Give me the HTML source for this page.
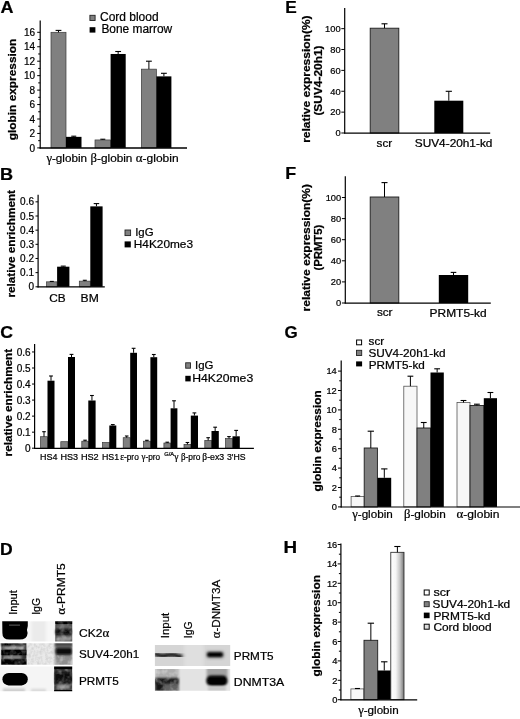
<!DOCTYPE html>
<html lang="en"><head><meta charset="utf-8"><title>Figure</title>
<style>html,body{margin:0;padding:0;background:#fff;overflow:hidden;}svg{display:block;filter:blur(0.3px);}text{font-family:'Liberation Sans', sans-serif;fill:#000;stroke:#000;stroke-width:0.22px;}</style>
</head><body>
<svg width="520" height="719" viewBox="0 0 520 719">
<defs>
<linearGradient id="cbgrad" x1="0" x2="1" y1="0" y2="0"><stop offset="0" stop-color="#ffffff"/><stop offset="0.38" stop-color="#f6f6f6"/><stop offset="0.7" stop-color="#c4c4c4"/><stop offset="1" stop-color="#787878"/></linearGradient>
<filter id="b1" x="-30%" y="-30%" width="160%" height="160%"><feGaussianBlur stdDeviation="1.1"/></filter>
<filter id="b2" x="-30%" y="-30%" width="160%" height="160%"><feGaussianBlur stdDeviation="1.8"/></filter>
<filter id="b3" x="-30%" y="-30%" width="160%" height="160%"><feGaussianBlur stdDeviation="0.7"/></filter>
<filter id="soft" x="-5%" y="-5%" width="110%" height="110%"><feGaussianBlur stdDeviation="0.45"/></filter>
<filter id="mottle" x="0" y="0" width="100%" height="100%"><feTurbulence type="fractalNoise" baseFrequency="0.2" numOctaves="2" seed="11"/><feColorMatrix type="matrix" values="0 0 0 0 1  0 0 0 0 1  0 0 0 0 1  2.6 0 0 0 -1.1"/><feComposite in2="SourceGraphic" operator="in"/><feGaussianBlur stdDeviation="0.5"/></filter>
<filter id="noise" x="0" y="0" width="100%" height="100%"><feTurbulence type="fractalNoise" baseFrequency="0.35" numOctaves="2" seed="3" result="n"/><feColorMatrix type="matrix" values="0 0 0 0 0  0 0 0 0 0  0 0 0 0 0  0.9 0 0 0 -0.32"/><feComposite in2="SourceGraphic" operator="in"/></filter>
</defs>
<rect x="0" y="0" width="520" height="719" fill="#fff"/>
<text x="0.4" y="12.9" font-size="16.2" font-weight="bold" textLength="13.0" lengthAdjust="spacingAndGlyphs">A</text>
<text x="0.05" y="179.6" font-size="16.2" font-weight="bold" textLength="13.1" lengthAdjust="spacingAndGlyphs">B</text>
<text x="0.15" y="337.9" font-size="16.2" font-weight="bold" textLength="12.8" lengthAdjust="spacingAndGlyphs">C</text>
<text x="0.05" y="554.8" font-size="16.2" font-weight="bold" textLength="12.7" lengthAdjust="spacingAndGlyphs">D</text>
<text x="285.25" y="12.7" font-size="16.2" font-weight="bold" textLength="11.5" lengthAdjust="spacingAndGlyphs">E</text>
<text x="285.25" y="179.2" font-size="16.2" font-weight="bold" textLength="10.9" lengthAdjust="spacingAndGlyphs">F</text>
<text x="284.5" y="338.3" font-size="16.2" font-weight="bold" textLength="13.2" lengthAdjust="spacingAndGlyphs">G</text>
<text x="283.45" y="553.1" font-size="16.2" font-weight="bold" textLength="13.6" lengthAdjust="spacingAndGlyphs">H</text>
<g id="panelA">
<rect x="51.00" y="32.30" width="15.00" height="115.60" fill="#808080" stroke="#3a3a3a" stroke-width="0.7"/>
<line x1="58.5" y1="32.30000000000001" x2="58.5" y2="30.4" stroke="#000" stroke-width="1.0"/>
<line x1="55.6" y1="30.4" x2="61.4" y2="30.4" stroke="#000" stroke-width="1.1"/>
<rect x="66.00" y="136.85" width="15.50" height="11.05" fill="#000"/>
<line x1="73.75" y1="136.84575" x2="73.75" y2="136.1955" stroke="#000" stroke-width="1.0"/>
<line x1="71.25" y1="136.1955" x2="76.25" y2="136.1955" stroke="#000" stroke-width="1.1"/>
<rect x="95.00" y="139.95" width="15.60" height="7.95" fill="#808080" stroke="#3a3a3a" stroke-width="0.7"/>
<line x1="102.8" y1="139.95250000000001" x2="102.8" y2="139.23000000000002" stroke="#000" stroke-width="1.0"/>
<line x1="100.3" y1="139.23000000000002" x2="105.3" y2="139.23000000000002" stroke="#000" stroke-width="1.1"/>
<rect x="110.60" y="53.98" width="15.10" height="93.92" fill="#000"/>
<line x1="118.15" y1="53.97500000000001" x2="118.15" y2="51.5" stroke="#000" stroke-width="1.0"/>
<line x1="115.25" y1="51.5" x2="121.05000000000001" y2="51.5" stroke="#000" stroke-width="1.1"/>
<rect x="141.40" y="69.15" width="15.00" height="78.75" fill="#808080" stroke="#3a3a3a" stroke-width="0.7"/>
<line x1="148.9" y1="69.14750000000001" x2="148.9" y2="61.2" stroke="#000" stroke-width="1.0"/>
<line x1="146.0" y1="61.2" x2="151.8" y2="61.2" stroke="#000" stroke-width="1.1"/>
<rect x="156.40" y="76.37" width="15.00" height="71.53" fill="#000"/>
<line x1="163.9" y1="76.3725" x2="163.9" y2="73.3" stroke="#000" stroke-width="1.0"/>
<line x1="161.0" y1="73.3" x2="166.8" y2="73.3" stroke="#000" stroke-width="1.1"/>
<line x1="40.2" y1="20.6" x2="40.2" y2="148.5" stroke="#000" stroke-width="1.2"/>
<line x1="37.2" y1="147.9" x2="40.2" y2="147.9" stroke="#000" stroke-width="1.0"/>
<text x="35" y="151.5" font-size="10" text-anchor="end">0</text>
<line x1="37.2" y1="133.45000000000002" x2="40.2" y2="133.45000000000002" stroke="#000" stroke-width="1.0"/>
<text x="35" y="137.05" font-size="10" text-anchor="end">2</text>
<line x1="37.2" y1="119.0" x2="40.2" y2="119.0" stroke="#000" stroke-width="1.0"/>
<text x="35" y="122.6" font-size="10" text-anchor="end">4</text>
<line x1="37.2" y1="104.55000000000001" x2="40.2" y2="104.55000000000001" stroke="#000" stroke-width="1.0"/>
<text x="35" y="108.15" font-size="10" text-anchor="end">6</text>
<line x1="37.2" y1="90.10000000000001" x2="40.2" y2="90.10000000000001" stroke="#000" stroke-width="1.0"/>
<text x="35" y="93.7" font-size="10" text-anchor="end">8</text>
<line x1="37.2" y1="75.65" x2="40.2" y2="75.65" stroke="#000" stroke-width="1.0"/>
<text x="35" y="79.25" font-size="10" text-anchor="end">10</text>
<line x1="37.2" y1="61.20000000000002" x2="40.2" y2="61.20000000000002" stroke="#000" stroke-width="1.0"/>
<text x="35" y="64.8" font-size="10" text-anchor="end">12</text>
<line x1="37.2" y1="46.750000000000014" x2="40.2" y2="46.750000000000014" stroke="#000" stroke-width="1.0"/>
<text x="35" y="50.35" font-size="10" text-anchor="end">14</text>
<line x1="37.2" y1="32.30000000000001" x2="40.2" y2="32.30000000000001" stroke="#000" stroke-width="1.0"/>
<text x="35" y="35.9" font-size="10" text-anchor="end">16</text>
<line x1="38.2" y1="140.675" x2="40.2" y2="140.675" stroke="#000" stroke-width="1.0"/>
<line x1="38.2" y1="126.22500000000001" x2="40.2" y2="126.22500000000001" stroke="#000" stroke-width="1.0"/>
<line x1="38.2" y1="111.775" x2="40.2" y2="111.775" stroke="#000" stroke-width="1.0"/>
<line x1="38.2" y1="97.32500000000002" x2="40.2" y2="97.32500000000002" stroke="#000" stroke-width="1.0"/>
<line x1="38.2" y1="82.87500000000001" x2="40.2" y2="82.87500000000001" stroke="#000" stroke-width="1.0"/>
<line x1="38.2" y1="68.42500000000001" x2="40.2" y2="68.42500000000001" stroke="#000" stroke-width="1.0"/>
<line x1="38.2" y1="53.97500000000001" x2="40.2" y2="53.97500000000001" stroke="#000" stroke-width="1.0"/>
<line x1="38.2" y1="39.525000000000006" x2="40.2" y2="39.525000000000006" stroke="#000" stroke-width="1.0"/>
<line x1="39.6" y1="148.0" x2="187" y2="148.0" stroke="#000" stroke-width="1.3"/>
<text x="15.7" y="140.2" font-size="10.9" font-weight="bold" transform="rotate(-90 15.7 140.2)" textLength="101.5" lengthAdjust="spacingAndGlyphs">globin expression</text>
<text x="46.4" y="162" font-size="11.7" textLength="40.6" lengthAdjust="spacingAndGlyphs"><tspan font-family="Liberation Serif, serif" font-size="12.64">γ</tspan>-globin</text>
<text x="90.6" y="162" font-size="11.7" textLength="41.8" lengthAdjust="spacingAndGlyphs"><tspan font-family="Liberation Serif, serif" font-size="12.64">β</tspan>-globin</text>
<text x="135.8" y="162" font-size="11.7" textLength="42.8" lengthAdjust="spacingAndGlyphs"><tspan font-family="Liberation Serif, serif" font-size="12.64">α</tspan>-globin</text>
<rect x="89.90" y="15.30" width="5.20" height="5.20" fill="#808080" stroke="#222" stroke-width="0.9"/>
<rect x="89.60" y="27.20" width="5.80" height="5.40" fill="#000"/>
<text x="100.0" y="20.8" font-size="12" textLength="58.6" lengthAdjust="spacingAndGlyphs">Cord blood</text>
<text x="101.4" y="32.9" font-size="12" textLength="70.8" lengthAdjust="spacingAndGlyphs">Bone marrow</text>
</g>
<g id="panelB">
<rect x="46.50" y="281.84" width="10.60" height="4.96" fill="#808080" stroke="#3a3a3a" stroke-width="0.7"/>
<line x1="51.8" y1="281.844" x2="51.8" y2="281.4192" stroke="#000" stroke-width="1.0"/>
<line x1="49.8" y1="281.4192" x2="53.8" y2="281.4192" stroke="#000" stroke-width="1.1"/>
<rect x="57.10" y="266.69" width="12.30" height="20.11" fill="#000"/>
<line x1="63.25" y1="266.69280000000003" x2="63.25" y2="266.1264" stroke="#000" stroke-width="1.0"/>
<line x1="60.75" y1="266.1264" x2="65.75" y2="266.1264" stroke="#000" stroke-width="1.1"/>
<rect x="79.30" y="281.14" width="11.00" height="5.66" fill="#808080" stroke="#3a3a3a" stroke-width="0.7"/>
<line x1="84.8" y1="281.136" x2="84.8" y2="280.2864" stroke="#000" stroke-width="1.0"/>
<line x1="82.8" y1="280.2864" x2="86.8" y2="280.2864" stroke="#000" stroke-width="1.1"/>
<rect x="90.30" y="206.37" width="12.30" height="80.43" fill="#000"/>
<line x1="96.44999999999999" y1="206.37120000000002" x2="96.44999999999999" y2="203.6" stroke="#000" stroke-width="1.0"/>
<line x1="93.69999999999999" y1="203.6" x2="99.19999999999999" y2="203.6" stroke="#000" stroke-width="1.1"/>
<line x1="38.1" y1="194.8" x2="38.1" y2="287.40000000000003" stroke="#000" stroke-width="1.2"/>
<line x1="35.5" y1="286.8" x2="38.1" y2="286.8" stroke="#000" stroke-width="1.0"/>
<text x="34" y="290.4" font-size="10" text-anchor="end">0</text>
<line x1="35.5" y1="272.64" x2="38.1" y2="272.64" stroke="#000" stroke-width="1.0"/>
<text x="34" y="276.24" font-size="10" text-anchor="end">0.1</text>
<line x1="35.5" y1="258.48" x2="38.1" y2="258.48" stroke="#000" stroke-width="1.0"/>
<text x="34" y="262.08" font-size="10" text-anchor="end">0.2</text>
<line x1="35.5" y1="244.32000000000002" x2="38.1" y2="244.32000000000002" stroke="#000" stroke-width="1.0"/>
<text x="34" y="247.92" font-size="10" text-anchor="end">0.3</text>
<line x1="35.5" y1="230.16000000000003" x2="38.1" y2="230.16000000000003" stroke="#000" stroke-width="1.0"/>
<text x="34" y="233.76" font-size="10" text-anchor="end">0.4</text>
<line x1="35.5" y1="216.0" x2="38.1" y2="216.0" stroke="#000" stroke-width="1.0"/>
<text x="34" y="219.6" font-size="10" text-anchor="end">0.5</text>
<line x1="35.5" y1="201.84000000000003" x2="38.1" y2="201.84000000000003" stroke="#000" stroke-width="1.0"/>
<text x="34" y="205.44" font-size="10" text-anchor="end">0.6</text>
<line x1="37.5" y1="286.90000000000003" x2="104.8" y2="286.90000000000003" stroke="#000" stroke-width="1.3"/>
<text x="14.7" y="297.6" font-size="10.9" font-weight="bold" transform="rotate(-90 14.7 297.6)" textLength="107.6" lengthAdjust="spacingAndGlyphs">relative enrichment</text>
<text x="49.2" y="302.4" font-size="11.5" textLength="16.4" lengthAdjust="spacingAndGlyphs">CB</text>
<text x="80.6" y="302.4" font-size="11.5" textLength="18.2" lengthAdjust="spacingAndGlyphs">BM</text>
<rect x="125.00" y="230.00" width="5.60" height="5.60" fill="#808080" stroke="#222" stroke-width="0.9"/>
<rect x="124.60" y="241.40" width="6.20" height="6.00" fill="#000"/>
<text x="135.2" y="235.5" font-size="11.5" textLength="18.4" lengthAdjust="spacingAndGlyphs">IgG</text>
<text x="133.8" y="247.6" font-size="11.5" textLength="59.2" lengthAdjust="spacingAndGlyphs">H4K20me3</text>
</g>
<g id="panelC">
<rect x="40.50" y="436.70" width="7.00" height="11.50" fill="#808080" stroke="#3a3a3a" stroke-width="0.7"/>
<line x1="44.0" y1="436.7" x2="44.0" y2="431.7" stroke="#000" stroke-width="1.0"/>
<line x1="42.2" y1="431.7" x2="45.8" y2="431.7" stroke="#000" stroke-width="1.1"/>
<rect x="47.50" y="380.70" width="7.00" height="67.50" fill="#000"/>
<line x1="51.0" y1="380.7" x2="51.0" y2="376.0" stroke="#000" stroke-width="1.0"/>
<line x1="49.1" y1="376.0" x2="52.9" y2="376.0" stroke="#000" stroke-width="1.1"/>
<rect x="60.80" y="441.70" width="7.20" height="6.50" fill="#808080" stroke="#3a3a3a" stroke-width="0.7"/>
<rect x="68.00" y="357.00" width="7.00" height="91.20" fill="#000"/>
<line x1="71.5" y1="357.0" x2="71.5" y2="354.4" stroke="#000" stroke-width="1.0"/>
<line x1="69.6" y1="354.4" x2="73.4" y2="354.4" stroke="#000" stroke-width="1.1"/>
<rect x="81.80" y="441.20" width="6.50" height="7.00" fill="#808080" stroke="#3a3a3a" stroke-width="0.7"/>
<line x1="85.05" y1="441.2" x2="85.05" y2="440.2" stroke="#000" stroke-width="1.0"/>
<line x1="83.25" y1="440.2" x2="86.85" y2="440.2" stroke="#000" stroke-width="1.1"/>
<rect x="88.30" y="400.50" width="7.30" height="47.70" fill="#000"/>
<line x1="91.94999999999999" y1="400.5" x2="91.94999999999999" y2="395.5" stroke="#000" stroke-width="1.0"/>
<line x1="90.04999999999998" y1="395.5" x2="93.85" y2="395.5" stroke="#000" stroke-width="1.1"/>
<rect x="102.50" y="442.50" width="6.80" height="5.70" fill="#808080" stroke="#3a3a3a" stroke-width="0.7"/>
<rect x="109.30" y="425.50" width="7.00" height="22.70" fill="#000"/>
<line x1="112.8" y1="425.5" x2="112.8" y2="424.6" stroke="#000" stroke-width="1.0"/>
<line x1="110.89999999999999" y1="424.6" x2="114.7" y2="424.6" stroke="#000" stroke-width="1.1"/>
<rect x="123.20" y="437.70" width="7.00" height="10.50" fill="#808080" stroke="#3a3a3a" stroke-width="0.7"/>
<line x1="126.69999999999999" y1="437.7" x2="126.69999999999999" y2="436.0" stroke="#000" stroke-width="1.0"/>
<line x1="124.89999999999999" y1="436.0" x2="128.5" y2="436.0" stroke="#000" stroke-width="1.1"/>
<rect x="130.20" y="352.80" width="6.80" height="95.40" fill="#000"/>
<line x1="133.6" y1="352.8" x2="133.6" y2="348.3" stroke="#000" stroke-width="1.0"/>
<line x1="131.7" y1="348.3" x2="135.5" y2="348.3" stroke="#000" stroke-width="1.1"/>
<rect x="143.40" y="441.20" width="7.00" height="7.00" fill="#808080" stroke="#3a3a3a" stroke-width="0.7"/>
<line x1="146.9" y1="441.2" x2="146.9" y2="440.3" stroke="#000" stroke-width="1.0"/>
<line x1="145.1" y1="440.3" x2="148.70000000000002" y2="440.3" stroke="#000" stroke-width="1.1"/>
<rect x="150.40" y="357.20" width="6.80" height="91.00" fill="#000"/>
<line x1="153.8" y1="357.2" x2="153.8" y2="354.5" stroke="#000" stroke-width="1.0"/>
<line x1="151.9" y1="354.5" x2="155.70000000000002" y2="354.5" stroke="#000" stroke-width="1.1"/>
<rect x="163.90" y="443.00" width="6.70" height="5.20" fill="#808080" stroke="#3a3a3a" stroke-width="0.7"/>
<line x1="167.25" y1="443.0" x2="167.25" y2="442.2" stroke="#000" stroke-width="1.0"/>
<line x1="165.45" y1="442.2" x2="169.05" y2="442.2" stroke="#000" stroke-width="1.1"/>
<rect x="170.60" y="408.30" width="6.80" height="39.90" fill="#000"/>
<line x1="174.0" y1="408.3" x2="174.0" y2="400.8" stroke="#000" stroke-width="1.0"/>
<line x1="172.1" y1="400.8" x2="175.9" y2="400.8" stroke="#000" stroke-width="1.1"/>
<rect x="184.00" y="444.40" width="6.80" height="3.80" fill="#808080" stroke="#3a3a3a" stroke-width="0.7"/>
<line x1="187.4" y1="444.4" x2="187.4" y2="442.5" stroke="#000" stroke-width="1.0"/>
<line x1="185.6" y1="442.5" x2="189.20000000000002" y2="442.5" stroke="#000" stroke-width="1.1"/>
<rect x="190.80" y="415.60" width="7.20" height="32.60" fill="#000"/>
<line x1="194.4" y1="415.6" x2="194.4" y2="412.9" stroke="#000" stroke-width="1.0"/>
<line x1="192.5" y1="412.9" x2="196.3" y2="412.9" stroke="#000" stroke-width="1.1"/>
<rect x="204.80" y="440.40" width="6.70" height="7.80" fill="#808080" stroke="#3a3a3a" stroke-width="0.7"/>
<line x1="208.15" y1="440.4" x2="208.15" y2="437.7" stroke="#000" stroke-width="1.0"/>
<line x1="206.35" y1="437.7" x2="209.95000000000002" y2="437.7" stroke="#000" stroke-width="1.1"/>
<rect x="211.50" y="431.00" width="7.30" height="17.20" fill="#000"/>
<line x1="215.15" y1="431.0" x2="215.15" y2="427.2" stroke="#000" stroke-width="1.0"/>
<line x1="213.25" y1="427.2" x2="217.05" y2="427.2" stroke="#000" stroke-width="1.1"/>
<rect x="225.50" y="438.50" width="7.00" height="9.70" fill="#808080" stroke="#3a3a3a" stroke-width="0.7"/>
<line x1="229.0" y1="438.5" x2="229.0" y2="436.6" stroke="#000" stroke-width="1.0"/>
<line x1="227.2" y1="436.6" x2="230.8" y2="436.6" stroke="#000" stroke-width="1.1"/>
<rect x="232.50" y="436.30" width="7.30" height="11.90" fill="#000"/>
<line x1="236.15" y1="436.3" x2="236.15" y2="430.4" stroke="#000" stroke-width="1.0"/>
<line x1="234.25" y1="430.4" x2="238.05" y2="430.4" stroke="#000" stroke-width="1.1"/>
<line x1="34.6" y1="344.0" x2="34.6" y2="448.8" stroke="#000" stroke-width="1.2"/>
<line x1="32.0" y1="448.2" x2="34.6" y2="448.2" stroke="#000" stroke-width="1.0"/>
<text x="30.6" y="451.8" font-size="10" text-anchor="end">0</text>
<line x1="32.0" y1="432.15999999999997" x2="34.6" y2="432.15999999999997" stroke="#000" stroke-width="1.0"/>
<text x="30.6" y="435.76" font-size="10" text-anchor="end">0.1</text>
<line x1="32.0" y1="416.12" x2="34.6" y2="416.12" stroke="#000" stroke-width="1.0"/>
<text x="30.6" y="419.72" font-size="10" text-anchor="end">0.2</text>
<line x1="32.0" y1="400.08" x2="34.6" y2="400.08" stroke="#000" stroke-width="1.0"/>
<text x="30.6" y="403.68" font-size="10" text-anchor="end">0.3</text>
<line x1="32.0" y1="384.03999999999996" x2="34.6" y2="384.03999999999996" stroke="#000" stroke-width="1.0"/>
<text x="30.6" y="387.64" font-size="10" text-anchor="end">0.4</text>
<line x1="32.0" y1="368.0" x2="34.6" y2="368.0" stroke="#000" stroke-width="1.0"/>
<text x="30.6" y="371.6" font-size="10" text-anchor="end">0.5</text>
<line x1="32.0" y1="351.96" x2="34.6" y2="351.96" stroke="#000" stroke-width="1.0"/>
<text x="30.6" y="355.56" font-size="10" text-anchor="end">0.6</text>
<line x1="34.0" y1="448.3" x2="253.9" y2="448.3" stroke="#000" stroke-width="1.3"/>
<text x="11.7" y="456.4" font-size="10.9" font-weight="bold" transform="rotate(-90 11.7 456.4)" textLength="107.6" lengthAdjust="spacingAndGlyphs">relative enrichment</text>
<text x="40.0" y="459.6" font-size="8.9" textLength="17.4" lengthAdjust="spacingAndGlyphs">HS4</text>
<text x="60.4" y="459.6" font-size="8.9" textLength="17.6" lengthAdjust="spacingAndGlyphs">HS3</text>
<text x="80.9" y="459.6" font-size="8.9" textLength="17.8" lengthAdjust="spacingAndGlyphs">HS2</text>
<text x="101.9" y="459.6" font-size="8.9" textLength="17.2" lengthAdjust="spacingAndGlyphs">HS1</text>
<text x="120.2" y="459.6" font-size="8.9" textLength="18.6" lengthAdjust="spacingAndGlyphs"><tspan font-family="Liberation Serif, serif" font-size="9.61">ε</tspan>-pro</text>
<text x="141.6" y="459.6" font-size="8.9" textLength="18.6" lengthAdjust="spacingAndGlyphs"><tspan font-family="Liberation Serif, serif" font-size="9.61">γ</tspan>-pro</text>
<text x="180.9" y="459.6" font-size="8.9" textLength="19.5" lengthAdjust="spacingAndGlyphs"><tspan font-family="Liberation Serif, serif" font-size="9.61">β</tspan>-pro</text>
<text x="202.3" y="459.6" font-size="8.9" textLength="21.9" lengthAdjust="spacingAndGlyphs"><tspan font-family="Liberation Serif, serif" font-size="9.61">β</tspan>-ex3</text>
<text x="227.0" y="459.6" font-size="8.9" textLength="18.6" lengthAdjust="spacingAndGlyphs">3'HS</text>
<text x="164.3" y="456.4" font-size="5.0" textLength="9.9" lengthAdjust="spacingAndGlyphs">G/A</text>
<text x="174.3" y="459.6" font-size="8.9"><tspan font-family="Liberation Serif, serif" font-size="9.61">γ</tspan></text>
<rect x="185.70" y="362.80" width="4.80" height="5.40" fill="#808080" stroke="#222" stroke-width="0.9"/>
<rect x="185.30" y="375.80" width="5.40" height="5.60" fill="#000"/>
<text x="195.0" y="369.0" font-size="11.5" textLength="18.4" lengthAdjust="spacingAndGlyphs">IgG</text>
<text x="192.2" y="382.0" font-size="11.5" textLength="61.0" lengthAdjust="spacingAndGlyphs">H4K20me3</text>
</g>
<g id="panelE">
<rect x="370.20" y="28.20" width="28.60" height="104.80" fill="#808080" stroke="#1c1c1c" stroke-width="0.9"/>
<line x1="384.5" y1="28.2" x2="384.5" y2="23.8" stroke="#000" stroke-width="1.0"/>
<line x1="381.5" y1="23.8" x2="387.5" y2="23.8" stroke="#000" stroke-width="1.1"/>
<rect x="434.30" y="100.70" width="29.00" height="32.30" fill="#000"/>
<line x1="448.8" y1="100.7" x2="448.8" y2="91.3" stroke="#000" stroke-width="1.0"/>
<line x1="445.7" y1="91.3" x2="451.90000000000003" y2="91.3" stroke="#000" stroke-width="1.1"/>
<line x1="344.7" y1="8.0" x2="344.7" y2="133.6" stroke="#000" stroke-width="1.2"/>
<line x1="341.3" y1="133.0" x2="344.7" y2="133.0" stroke="#000" stroke-width="1.0"/>
<text x="340.6" y="136.35" font-size="9.3" text-anchor="end">0</text>
<line x1="341.3" y1="112.13" x2="344.7" y2="112.13" stroke="#000" stroke-width="1.0"/>
<text x="340.6" y="115.48" font-size="9.3" text-anchor="end">20</text>
<line x1="341.3" y1="91.25999999999999" x2="344.7" y2="91.25999999999999" stroke="#000" stroke-width="1.0"/>
<text x="340.6" y="94.61" font-size="9.3" text-anchor="end">40</text>
<line x1="341.3" y1="70.38999999999999" x2="344.7" y2="70.38999999999999" stroke="#000" stroke-width="1.0"/>
<text x="340.6" y="73.74" font-size="9.3" text-anchor="end">60</text>
<line x1="341.3" y1="49.519999999999996" x2="344.7" y2="49.519999999999996" stroke="#000" stroke-width="1.0"/>
<text x="340.6" y="52.87" font-size="9.3" text-anchor="end">80</text>
<line x1="341.3" y1="28.64999999999999" x2="344.7" y2="28.64999999999999" stroke="#000" stroke-width="1.0"/>
<text x="340.6" y="32.0" font-size="9.3" text-anchor="end">100</text>
<line x1="344.1" y1="133.1" x2="490.2" y2="133.1" stroke="#000" stroke-width="1.2"/>
<text x="309.6" y="142.8" font-size="10.0" font-weight="bold" transform="rotate(-90 309.6 142.8)" textLength="127.4" lengthAdjust="spacingAndGlyphs">relative expression(%)</text>
<text x="322.2" y="115.6" font-size="10.0" font-weight="bold" transform="rotate(-90 322.2 115.6)" textLength="70.2" lengthAdjust="spacingAndGlyphs">(SUV4-20h1)</text>
<text x="376.6" y="146.7" font-size="10.3" textLength="15.6" lengthAdjust="spacingAndGlyphs">scr</text>
<text x="414.8" y="146.7" font-size="10.3" textLength="77.6" lengthAdjust="spacingAndGlyphs">SUV4-20h1-kd</text>
</g>
<g id="panelF">
<rect x="370.20" y="197.00" width="28.60" height="106.00" fill="#808080" stroke="#1c1c1c" stroke-width="0.9"/>
<line x1="384.5" y1="197.0" x2="384.5" y2="182.6" stroke="#000" stroke-width="1.0"/>
<line x1="381.5" y1="182.6" x2="387.5" y2="182.6" stroke="#000" stroke-width="1.1"/>
<rect x="438.80" y="275.00" width="29.40" height="28.00" fill="#000"/>
<line x1="453.5" y1="275.0" x2="453.5" y2="272.4" stroke="#000" stroke-width="1.0"/>
<line x1="450.7" y1="272.4" x2="456.3" y2="272.4" stroke="#000" stroke-width="1.1"/>
<line x1="345.3" y1="176.2" x2="345.3" y2="303.6" stroke="#000" stroke-width="1.2"/>
<line x1="341.90000000000003" y1="303.0" x2="345.3" y2="303.0" stroke="#000" stroke-width="1.0"/>
<text x="341.2" y="306.35" font-size="9.3" text-anchor="end">0</text>
<line x1="341.90000000000003" y1="281.9" x2="345.3" y2="281.9" stroke="#000" stroke-width="1.0"/>
<text x="341.2" y="285.25" font-size="9.3" text-anchor="end">20</text>
<line x1="341.90000000000003" y1="260.8" x2="345.3" y2="260.8" stroke="#000" stroke-width="1.0"/>
<text x="341.2" y="264.15" font-size="9.3" text-anchor="end">40</text>
<line x1="341.90000000000003" y1="239.7" x2="345.3" y2="239.7" stroke="#000" stroke-width="1.0"/>
<text x="341.2" y="243.05" font-size="9.3" text-anchor="end">60</text>
<line x1="341.90000000000003" y1="218.60000000000002" x2="345.3" y2="218.60000000000002" stroke="#000" stroke-width="1.0"/>
<text x="341.2" y="221.95" font-size="9.3" text-anchor="end">80</text>
<line x1="341.90000000000003" y1="197.5" x2="345.3" y2="197.5" stroke="#000" stroke-width="1.0"/>
<text x="341.2" y="200.85" font-size="9.3" text-anchor="end">100</text>
<line x1="344.7" y1="303.1" x2="490.8" y2="303.1" stroke="#000" stroke-width="1.2"/>
<text x="309.6" y="311.4" font-size="10.0" font-weight="bold" transform="rotate(-90 309.6 311.4)" textLength="127.4" lengthAdjust="spacingAndGlyphs">relative expression(%)</text>
<text x="322.2" y="270.5" font-size="10.0" font-weight="bold" transform="rotate(-90 322.2 270.5)" textLength="45.8" lengthAdjust="spacingAndGlyphs">(PRMT5)</text>
<text x="376.9" y="316.3" font-size="10.3" textLength="15.6" lengthAdjust="spacingAndGlyphs">scr</text>
<text x="429.6" y="316.6" font-size="10.3" textLength="57.0" lengthAdjust="spacingAndGlyphs">PRMT5-kd</text>
</g>
<g id="panelG">
<rect x="351.10" y="496.50" width="13.10" height="10.40" fill="#f7f7f7" stroke="#4a4a4a" stroke-width="0.75"/>
<line x1="357.65" y1="496.5" x2="357.65" y2="496.0" stroke="#000" stroke-width="1.0"/>
<line x1="355.15" y1="496.0" x2="360.15" y2="496.0" stroke="#000" stroke-width="1.1"/>
<rect x="364.20" y="448.00" width="13.20" height="58.90" fill="#808080" stroke="#1c1c1c" stroke-width="0.9"/>
<line x1="370.79999999999995" y1="448.0" x2="370.79999999999995" y2="431.2" stroke="#000" stroke-width="1.0"/>
<line x1="367.65" y1="431.2" x2="373.94999999999993" y2="431.2" stroke="#000" stroke-width="1.1"/>
<rect x="377.40" y="477.80" width="13.80" height="29.10" fill="#000"/>
<line x1="384.29999999999995" y1="477.8" x2="384.29999999999995" y2="468.9" stroke="#000" stroke-width="1.0"/>
<line x1="381.15" y1="468.9" x2="387.44999999999993" y2="468.9" stroke="#000" stroke-width="1.1"/>
<rect x="403.80" y="386.20" width="13.20" height="120.70" fill="#f7f7f7" stroke="#4a4a4a" stroke-width="0.75"/>
<line x1="410.4" y1="386.2" x2="410.4" y2="376.2" stroke="#000" stroke-width="1.0"/>
<line x1="407.5" y1="376.2" x2="413.29999999999995" y2="376.2" stroke="#000" stroke-width="1.1"/>
<rect x="417.00" y="428.00" width="13.50" height="78.90" fill="#808080" stroke="#1c1c1c" stroke-width="0.9"/>
<line x1="423.75" y1="428.0" x2="423.75" y2="422.5" stroke="#000" stroke-width="1.0"/>
<line x1="420.85" y1="422.5" x2="426.65" y2="422.5" stroke="#000" stroke-width="1.1"/>
<rect x="430.50" y="372.50" width="13.30" height="134.40" fill="#000"/>
<line x1="437.15" y1="372.5" x2="437.15" y2="368.8" stroke="#000" stroke-width="1.0"/>
<line x1="434.25" y1="368.8" x2="440.04999999999995" y2="368.8" stroke="#000" stroke-width="1.1"/>
<rect x="457.00" y="402.50" width="13.00" height="104.40" fill="#f7f7f7" stroke="#4a4a4a" stroke-width="0.75"/>
<line x1="463.5" y1="402.5" x2="463.5" y2="400.5" stroke="#000" stroke-width="1.0"/>
<line x1="460.6" y1="400.5" x2="466.4" y2="400.5" stroke="#000" stroke-width="1.1"/>
<rect x="470.00" y="405.50" width="13.80" height="101.40" fill="#808080" stroke="#1c1c1c" stroke-width="0.9"/>
<line x1="476.9" y1="405.5" x2="476.9" y2="404.2" stroke="#000" stroke-width="1.0"/>
<line x1="474.0" y1="404.2" x2="479.79999999999995" y2="404.2" stroke="#000" stroke-width="1.1"/>
<rect x="483.80" y="398.20" width="13.20" height="108.70" fill="#000"/>
<line x1="490.4" y1="398.2" x2="490.4" y2="392.5" stroke="#000" stroke-width="1.0"/>
<line x1="487.5" y1="392.5" x2="493.29999999999995" y2="392.5" stroke="#000" stroke-width="1.1"/>
<line x1="341.2" y1="360.4" x2="341.2" y2="507.5" stroke="#000" stroke-width="1.2"/>
<line x1="338.0" y1="506.9" x2="341.2" y2="506.9" stroke="#000" stroke-width="1.0"/>
<text x="336.8" y="510.25" font-size="9.3" text-anchor="end">0</text>
<line x1="338.0" y1="487.5" x2="341.2" y2="487.5" stroke="#000" stroke-width="1.0"/>
<text x="336.8" y="490.85" font-size="9.3" text-anchor="end">2</text>
<line x1="338.0" y1="468.09999999999997" x2="341.2" y2="468.09999999999997" stroke="#000" stroke-width="1.0"/>
<text x="336.8" y="471.45" font-size="9.3" text-anchor="end">4</text>
<line x1="338.0" y1="448.7" x2="341.2" y2="448.7" stroke="#000" stroke-width="1.0"/>
<text x="336.8" y="452.05" font-size="9.3" text-anchor="end">6</text>
<line x1="338.0" y1="429.29999999999995" x2="341.2" y2="429.29999999999995" stroke="#000" stroke-width="1.0"/>
<text x="336.8" y="432.65" font-size="9.3" text-anchor="end">8</text>
<line x1="338.0" y1="409.9" x2="341.2" y2="409.9" stroke="#000" stroke-width="1.0"/>
<text x="336.8" y="413.25" font-size="9.3" text-anchor="end">10</text>
<line x1="338.0" y1="390.5" x2="341.2" y2="390.5" stroke="#000" stroke-width="1.0"/>
<text x="336.8" y="393.85" font-size="9.3" text-anchor="end">12</text>
<line x1="338.0" y1="371.1" x2="341.2" y2="371.1" stroke="#000" stroke-width="1.0"/>
<text x="336.8" y="374.45" font-size="9.3" text-anchor="end">14</text>
<line x1="339.2" y1="497.2" x2="341.2" y2="497.2" stroke="#000" stroke-width="1.0"/>
<line x1="339.2" y1="477.79999999999995" x2="341.2" y2="477.79999999999995" stroke="#000" stroke-width="1.0"/>
<line x1="339.2" y1="458.4" x2="341.2" y2="458.4" stroke="#000" stroke-width="1.0"/>
<line x1="339.2" y1="439.0" x2="341.2" y2="439.0" stroke="#000" stroke-width="1.0"/>
<line x1="339.2" y1="419.59999999999997" x2="341.2" y2="419.59999999999997" stroke="#000" stroke-width="1.0"/>
<line x1="339.2" y1="400.2" x2="341.2" y2="400.2" stroke="#000" stroke-width="1.0"/>
<line x1="339.2" y1="380.79999999999995" x2="341.2" y2="380.79999999999995" stroke="#000" stroke-width="1.0"/>
<line x1="340.6" y1="507.0" x2="520" y2="507.0" stroke="#000" stroke-width="1.2"/>
<text x="321.3" y="491.4" font-size="10.0" font-weight="bold" transform="rotate(-90 321.3 491.4)" textLength="101.0" lengthAdjust="spacingAndGlyphs">globin expression</text>
<text x="352.2" y="518" font-size="11.5" textLength="40.6" lengthAdjust="spacingAndGlyphs"><tspan font-family="Liberation Serif, serif" font-size="12.42">γ</tspan>-globin</text>
<text x="404.0" y="518" font-size="11.5" textLength="41.8" lengthAdjust="spacingAndGlyphs"><tspan font-family="Liberation Serif, serif" font-size="12.42">β</tspan>-globin</text>
<text x="456.5" y="518" font-size="11.5" textLength="43.0" lengthAdjust="spacingAndGlyphs"><tspan font-family="Liberation Serif, serif" font-size="12.42">α</tspan>-globin</text>
<rect x="356.60" y="340.00" width="5.00" height="4.80" fill="#fff" stroke="#000" stroke-width="1.0"/>
<rect x="356.50" y="350.30" width="5.20" height="5.20" fill="#808080" stroke="#222" stroke-width="0.9"/>
<rect x="356.10" y="361.40" width="6.00" height="5.00" fill="#000"/>
<text x="368.6" y="345.4" font-size="10.3" textLength="15.6" lengthAdjust="spacingAndGlyphs">scr</text>
<text x="368.4" y="356.8" font-size="10.3" textLength="77.2" lengthAdjust="spacingAndGlyphs">SUV4-20h1-kd</text>
<text x="368.8" y="368.6" font-size="10.3" textLength="56.0" lengthAdjust="spacingAndGlyphs">PRMT5-kd</text>
</g>
<g id="panelH">
<rect x="350.90" y="688.90" width="13.10" height="10.80" fill="#f7f7f7" stroke="#4a4a4a" stroke-width="0.75"/>
<line x1="357.45" y1="688.9" x2="357.45" y2="688.5" stroke="#000" stroke-width="1.0"/>
<line x1="354.95" y1="688.5" x2="359.95" y2="688.5" stroke="#000" stroke-width="1.1"/>
<rect x="364.00" y="640.30" width="13.70" height="59.40" fill="#808080" stroke="#1c1c1c" stroke-width="0.9"/>
<line x1="370.85" y1="640.3" x2="370.85" y2="623.2" stroke="#000" stroke-width="1.0"/>
<line x1="367.65000000000003" y1="623.2" x2="374.05" y2="623.2" stroke="#000" stroke-width="1.1"/>
<rect x="377.70" y="670.50" width="13.10" height="29.20" fill="#000"/>
<line x1="384.25" y1="670.5" x2="384.25" y2="661.8" stroke="#000" stroke-width="1.0"/>
<line x1="381.05" y1="661.8" x2="387.45" y2="661.8" stroke="#000" stroke-width="1.1"/>
<rect x="390.80" y="552.30" width="13.20" height="147.40" fill="url(#cbgrad)" stroke="#222" stroke-width="0.8"/>
<line x1="397.4" y1="552.3" x2="397.4" y2="546.5" stroke="#000" stroke-width="1.0"/>
<line x1="394.29999999999995" y1="546.5" x2="400.5" y2="546.5" stroke="#000" stroke-width="1.1"/>
<line x1="340.9" y1="543.4" x2="340.9" y2="700.3000000000001" stroke="#000" stroke-width="1.2"/>
<line x1="337.7" y1="699.7" x2="340.9" y2="699.7" stroke="#000" stroke-width="1.0"/>
<text x="337.3" y="703.05" font-size="9.3" text-anchor="end">0</text>
<line x1="337.7" y1="680.3000000000001" x2="340.9" y2="680.3000000000001" stroke="#000" stroke-width="1.0"/>
<text x="337.3" y="683.65" font-size="9.3" text-anchor="end">2</text>
<line x1="337.7" y1="660.9000000000001" x2="340.9" y2="660.9000000000001" stroke="#000" stroke-width="1.0"/>
<text x="337.3" y="664.25" font-size="9.3" text-anchor="end">4</text>
<line x1="337.7" y1="641.5" x2="340.9" y2="641.5" stroke="#000" stroke-width="1.0"/>
<text x="337.3" y="644.85" font-size="9.3" text-anchor="end">6</text>
<line x1="337.7" y1="622.1" x2="340.9" y2="622.1" stroke="#000" stroke-width="1.0"/>
<text x="337.3" y="625.45" font-size="9.3" text-anchor="end">8</text>
<line x1="337.7" y1="602.7" x2="340.9" y2="602.7" stroke="#000" stroke-width="1.0"/>
<text x="337.3" y="606.05" font-size="9.3" text-anchor="end">10</text>
<line x1="337.7" y1="583.3000000000001" x2="340.9" y2="583.3000000000001" stroke="#000" stroke-width="1.0"/>
<text x="337.3" y="586.65" font-size="9.3" text-anchor="end">12</text>
<line x1="337.7" y1="563.9000000000001" x2="340.9" y2="563.9000000000001" stroke="#000" stroke-width="1.0"/>
<text x="337.3" y="567.25" font-size="9.3" text-anchor="end">14</text>
<line x1="337.7" y1="544.5" x2="340.9" y2="544.5" stroke="#000" stroke-width="1.0"/>
<text x="337.3" y="547.85" font-size="9.3" text-anchor="end">16</text>
<line x1="338.9" y1="690.0" x2="340.9" y2="690.0" stroke="#000" stroke-width="1.0"/>
<line x1="338.9" y1="670.6" x2="340.9" y2="670.6" stroke="#000" stroke-width="1.0"/>
<line x1="338.9" y1="651.2" x2="340.9" y2="651.2" stroke="#000" stroke-width="1.0"/>
<line x1="338.9" y1="631.8000000000001" x2="340.9" y2="631.8000000000001" stroke="#000" stroke-width="1.0"/>
<line x1="338.9" y1="612.4000000000001" x2="340.9" y2="612.4000000000001" stroke="#000" stroke-width="1.0"/>
<line x1="338.9" y1="593.0" x2="340.9" y2="593.0" stroke="#000" stroke-width="1.0"/>
<line x1="338.9" y1="573.6" x2="340.9" y2="573.6" stroke="#000" stroke-width="1.0"/>
<line x1="338.9" y1="554.2" x2="340.9" y2="554.2" stroke="#000" stroke-width="1.0"/>
<line x1="340.3" y1="699.8000000000001" x2="417.2" y2="699.8000000000001" stroke="#000" stroke-width="1.2"/>
<text x="320.4" y="676.6" font-size="10.3" font-weight="bold" transform="rotate(-90 320.4 676.6)" textLength="101.5" lengthAdjust="spacingAndGlyphs">globin expression</text>
<text x="358.2" y="713.8" font-size="11.5" textLength="40.4" lengthAdjust="spacingAndGlyphs"><tspan font-family="Liberation Serif, serif" font-size="12.42">γ</tspan>-globin</text>
<rect x="424.20" y="590.00" width="5.00" height="5.00" fill="#fff" stroke="#000" stroke-width="1.0"/>
<rect x="424.20" y="601.70" width="5.00" height="5.00" fill="#808080" stroke="#222" stroke-width="0.9"/>
<rect x="423.80" y="612.60" width="5.80" height="5.60" fill="#000"/>
<rect x="424.20" y="624.20" width="5.00" height="5.00" fill="#ddd" stroke="#000" stroke-width="1.0"/>
<text x="433.4" y="596.3" font-size="10.3" textLength="16.8" lengthAdjust="spacingAndGlyphs">scr</text>
<text x="432.6" y="608.0" font-size="10.3" textLength="77.6" lengthAdjust="spacingAndGlyphs">SUV4-20h1-kd</text>
<text x="433.4" y="619.5" font-size="10.3" textLength="57.0" lengthAdjust="spacingAndGlyphs">PRMT5-kd</text>
<text x="433.4" y="630.8" font-size="10.3" textLength="58.2" lengthAdjust="spacingAndGlyphs">Cord blood</text>
</g>
<g id="panelD">
<defs>
<clipPath id="cA1"><rect x="0" y="621.3" width="72.6" height="20.2"/></clipPath>
<clipPath id="cA2"><rect x="0" y="643.2" width="72.6" height="21.6"/></clipPath>
<clipPath id="cA3"><rect x="0" y="666.6" width="72.6" height="24.6"/></clipPath>
<clipPath id="cB1"><rect x="154.9" y="644.9" width="75.3" height="21.0"/></clipPath>
<clipPath id="cB2"><rect x="154.9" y="669.0" width="75.3" height="21.8"/></clipPath>
</defs>
<!-- left blot, row 1: CK2 alpha -->
<g clip-path="url(#cA1)"><g filter="url(#soft)">
<rect x="-2" y="619" width="76.6" height="25" fill="#f7f7f7"/>
<rect x="31.5" y="620" width="14.5" height="23" fill="#ebebeb" filter="url(#b2)"/>
<path d="M2.2 619 L27.8 619 L27.8 626 Q26.4 629.5 27.6 633 Q27.4 639.8 19 639.6 L10 639.6 Q2.2 639.8 2.4 633 Z" fill="#000" filter="url(#b3)"/>
<rect x="9" y="624.6" width="11" height="1.0" fill="#606060" filter="url(#b3)"/>
<rect x="55.3" y="619" width="17" height="25" fill="#474747" filter="url(#b3)"/>
<rect x="55.3" y="619" width="17" height="5.0" fill="#050505" filter="url(#b3)"/>
<rect x="56.4" y="625.4" width="14.8" height="2.6" fill="#6e6e6e" filter="url(#b1)"/>
<rect x="55.6" y="629.4" width="16.4" height="5" fill="#0c0c0c" filter="url(#b1)"/>
<rect x="56.4" y="636.6" width="14.8" height="4.6" fill="#949494" filter="url(#b1)"/>
<rect x="55.3" y="619" width="17" height="25" fill="#fff" filter="url(#mottle)" opacity="0.28"/>
</g></g>
<!-- left blot, row 2: SUV4-20h1 -->
<g clip-path="url(#cA2)"><g filter="url(#soft)">
<rect x="-2" y="641" width="76.6" height="26" fill="#e9e9e9"/>
<rect x="-2" y="641" width="76.6" height="26" fill="#000" filter="url(#noise)" opacity="0.22"/>
<rect x="1.4" y="641" width="25" height="26" fill="#303030" filter="url(#b3)"/>
<rect x="1.4" y="641" width="10" height="5" fill="#000" filter="url(#b1)"/>
<rect x="3.4" y="646.4" width="21" height="3" fill="#a8a8a8" filter="url(#b1)"/>
<rect x="1.4" y="649.8" width="25" height="5.4" fill="#000" filter="url(#b3)"/>
<rect x="3.6" y="656" width="18" height="2.4" fill="#a0a0a0" filter="url(#b1)"/>
<rect x="1.4" y="659.4" width="25" height="8" fill="#000" filter="url(#b3)"/>
<rect x="1.4" y="641" width="25" height="26" fill="#fff" filter="url(#mottle)" opacity="0.3"/>
<rect x="55" y="641" width="17.4" height="26" fill="#8e8e8e" filter="url(#b1)"/>
<rect x="55" y="641" width="17.4" height="5.6" fill="#4a4a4a" filter="url(#b1)"/>
<rect x="55.6" y="647.8" width="16.4" height="7" rx="2" fill="#080808" filter="url(#b1)"/>
<rect x="55" y="655" width="17.4" height="12" fill="#fff" filter="url(#mottle)" opacity="0.4"/>
</g></g>
<!-- left blot, row 3: PRMT5 -->
<g clip-path="url(#cA3)"><g filter="url(#soft)">
<rect x="-2" y="664" width="76.6" height="30" fill="#f5f5f5"/>
<rect x="3" y="688.4" width="22" height="4" fill="#cdcdcd" filter="url(#b1)"/>
<rect x="31" y="688.8" width="15" height="4" fill="#dadada" filter="url(#b1)"/>
<rect x="2.4" y="673.0" width="25.4" height="12.4" rx="6.2" ry="6.2" fill="#000" filter="url(#b3)"/>
<rect x="54.2" y="664" width="18" height="30" fill="#363636" filter="url(#b3)"/>
<rect x="54.2" y="664" width="18" height="5.2" fill="#000" filter="url(#b3)"/>
<rect x="55" y="672.6" width="16.6" height="10.6" fill="#0a0a0a" filter="url(#b1)"/>
<rect x="56.6" y="684.4" width="13.4" height="4.6" fill="#8e8e8e" filter="url(#b1)"/>
<rect x="54.2" y="690" width="18" height="4" fill="#000" filter="url(#b3)"/>
<rect x="54.2" y="669" width="18" height="21" fill="#fff" filter="url(#mottle)" opacity="0.3"/>
</g></g>
<!-- right blot, row 1: PRMT5 -->
<g clip-path="url(#cB1)"><g filter="url(#soft)">
<rect x="152" y="642" width="81" height="27" fill="#d5d5d5"/>
<rect x="184" y="642" width="20" height="27" fill="#dfdfdf" filter="url(#b2)"/>
<path d="M156 654.4 Q162 656.6 168 655 Q174 654.2 178 656.0 L181 656.4" fill="none" stroke="#9a9a9a" stroke-width="6" stroke-linecap="round" filter="url(#b2)"/>
<path d="M156 654.4 Q162 656.6 168 655 Q174 654.2 178 656.0 L180.6 656.4" fill="none" stroke="#101010" stroke-width="2.9" stroke-linecap="round" filter="url(#b1)"/>
<rect x="206" y="651" width="18.4" height="7.4" rx="3" fill="#9a9a9a" filter="url(#b2)"/>
<rect x="207.0" y="652.3" width="16.0" height="4.8" rx="2.4" fill="#000" filter="url(#b1)"/>
</g></g>
<!-- right blot, row 2: DNMT3A -->
<g clip-path="url(#cB2)"><g filter="url(#soft)">
<rect x="152" y="667" width="81" height="26" fill="#e3e3e3"/>
<rect x="155.6" y="666" width="23" height="28" fill="#adadad" filter="url(#b1)"/>
<rect x="155.6" y="678.2" width="23" height="16" fill="#626262" filter="url(#b1)"/>
<rect x="155.6" y="678.4" width="22.6" height="5.4" fill="#1e1e1e" filter="url(#b1)"/>
<rect x="155.6" y="680" width="7.6" height="14" fill="#141414" filter="url(#b1)"/>
<rect x="155.6" y="666" width="23" height="28" fill="#fff" filter="url(#mottle)" opacity="0.3"/>
<rect x="206.6" y="666" width="21" height="12" fill="#a2a2a2" filter="url(#b1)"/>
<rect x="206.2" y="675.6" width="21.4" height="10.4" rx="5" fill="#000" filter="url(#b1)"/>
<rect x="208" y="686.4" width="18" height="5" fill="#c6c6c6" filter="url(#b1)"/>
</g></g>
<!-- rotated lane labels, left blot -->
<text x="16.8" y="614.8" font-size="11.5" transform="rotate(-90 16.8 614.8)" textLength="24.6" lengthAdjust="spacingAndGlyphs">Input</text>
<text x="39.7" y="614.8" font-size="11.5" transform="rotate(-90 39.7 614.8)" textLength="16.8" lengthAdjust="spacingAndGlyphs">IgG</text>
<text x="65.3" y="614.8" font-size="11.5" transform="rotate(-90 65.3 614.8)" textLength="51.6" lengthAdjust="spacingAndGlyphs"><tspan font-family="Liberation Serif, serif" font-size="12.4">α</tspan>-PRMT5</text>
<!-- rotated lane labels, right blot -->
<text x="168.6" y="638.2" font-size="11.5" transform="rotate(-90 168.6 638.2)" textLength="25.4" lengthAdjust="spacingAndGlyphs">Input</text>
<text x="191.6" y="638.2" font-size="11.5" transform="rotate(-90 191.6 638.2)" textLength="16.8" lengthAdjust="spacingAndGlyphs">IgG</text>
<text x="220.2" y="638.2" font-size="11.5" transform="rotate(-90 220.2 638.2)" textLength="58.4" lengthAdjust="spacingAndGlyphs"><tspan font-family="Liberation Serif, serif" font-size="12.4">α</tspan>-DNMT3A</text>
<!-- protein labels -->
<text x="79.0" y="637.0" font-size="11.5" textLength="30.2" lengthAdjust="spacingAndGlyphs">CK2<tspan font-family="Liberation Serif, serif" font-size="12.4">α</tspan></text>
<text x="79.0" y="658.2" font-size="11.5" textLength="60.2" lengthAdjust="spacingAndGlyphs">SUV4-20h1</text>
<text x="79.0" y="684.8" font-size="11.5" textLength="39.8" lengthAdjust="spacingAndGlyphs">PRMT5</text>
<text x="233.8" y="660.4" font-size="11.5" textLength="39.8" lengthAdjust="spacingAndGlyphs">PRMT5</text>
<text x="233.8" y="685.6" font-size="11.5" textLength="50.4" lengthAdjust="spacingAndGlyphs">DNMT3A</text>
</g>

</svg></body></html>
